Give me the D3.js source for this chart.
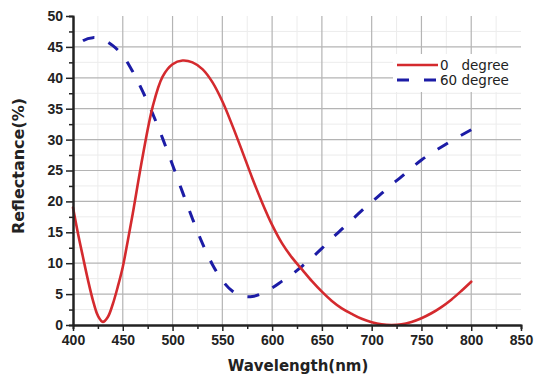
<!DOCTYPE html>
<html>
<head>
<meta charset="utf-8">
<script src="https://cdn.jsdelivr.net/npm/d3@7"></script>
<style>
  body { margin: 0; background: #fff; }
  svg { display: block; font-family: 'DejaVu Sans', Arial, sans-serif; }
</style>
</head>
<body>
<div id="chart"></div>
<script>
// wavelength (nm) and reflectance (%)
const wave0 = [400, 405, 410, 415, 420, 425, 430, 435, 440, 445, 450, 455, 460, 470, 480, 490, 500, 510, 520, 530, 540, 550, 560, 570, 580, 590, 600, 610, 620, 630, 640, 650, 660, 670, 680, 690, 700, 710, 720, 730, 740, 750, 760, 770, 780, 790, 800];
const refl0 = [19, 14.8, 11, 7.3, 4.0, 1.5, 0.5, 1.3, 3.4, 6.2, 9.4, 13.6, 18, 27.3, 35.3, 40.2, 42.2, 42.8, 42.5, 41.4, 39.3, 36.2, 32.3, 28.1, 23.8, 19.8, 16.2, 13.2, 10.9, 9.0, 7.1, 5.4, 3.9, 2.7, 1.8, 1.0, 0.45, 0.1, 0, 0.1, 0.5, 1.1, 1.9, 2.9, 4.1, 5.5, 7.0];

const wave60 = [400, 410, 420, 430, 440, 450, 460, 470, 480, 490, 500, 510, 520, 530, 540, 550, 560, 570, 580, 590, 600, 610, 620, 630, 640, 650, 660, 670, 680, 690, 700, 710, 720, 730, 740, 750, 760, 770, 780, 790, 800];
const refl60 = [44.5, 46, 46.5, 46.2, 45.2, 43.6, 41.0, 37.8, 34.2, 30.2, 25.9, 21.5, 17.2, 13.2, 9.8, 7.2, 5.5, 4.7, 4.6, 5.1, 6, 7.1, 8.2, 9.5, 10.9, 12.4, 14, 15.5, 17, 18.5, 19.9, 21.3, 22.7, 24, 25.4, 26.7, 27.8, 28.8, 29.8, 30.7, 31.6];

const xTicks = [400, 450, 500, 550, 600, 650, 700, 750, 800, 850];
const yTicks = [0, 5, 10, 15, 20, 25, 30, 35, 40, 45, 50];
const seriesNames = ['0   degree', '60 degree'];

const width = 536, height = 380;
const svg = d3.select('#chart').append('svg')
  .attr('width', width)
  .attr('height', height);

const x = d3.scaleLinear().domain([400, 850]).range([73, 521]);
const y = d3.scaleLinear().domain([0, 50]).range([325, 16]);

// minor grid
const minorX = d3.range(425, 850, 50);
const minorY = d3.range(2.5, 50, 5);
const grid = svg.append('g');
grid.selectAll('.mx').data(minorX).enter().append('line')
  .attr('x1', d => x(d)).attr('x2', d => x(d))
  .attr('y1', y(50)).attr('y2', y(0))
  .attr('stroke', '#ececec').attr('stroke-width', 1);
grid.selectAll('.my').data(minorY).enter().append('line')
  .attr('y1', d => y(d)).attr('y2', d => y(d))
  .attr('x1', x(400)).attr('x2', x(850))
  .attr('stroke', '#ececec').attr('stroke-width', 1);
// major grid
grid.selectAll('.gx').data(xTicks.filter(d => d > 400 && d < 850)).enter().append('line')
  .attr('x1', d => x(d)).attr('x2', d => x(d))
  .attr('y1', y(50)).attr('y2', y(0))
  .attr('stroke', '#b4b4b4').attr('stroke-width', 1.2);
grid.selectAll('.gy').data(yTicks.filter(d => d > 0 && d < 50)).enter().append('line')
  .attr('y1', d => y(d)).attr('y2', d => y(d))
  .attr('x1', x(400)).attr('x2', x(850))
  .attr('stroke', '#b4b4b4').attr('stroke-width', 1.2);

// lines
const line = d3.line()
  .x(d => x(d[0]))
  .y(d => y(d[1]))
  .curve(d3.curveCatmullRom.alpha(0.5));

const dashed = svg.append('path')
  .datum(wave60.map((w, i) => [w, refl60[i]]))
  .attr('d', line)
  .attr('fill', 'none')
  .attr('stroke', '#1c1ca6')
  .attr('stroke-width', 3)
  .attr('stroke-dasharray', '12,15');
// end the dash pattern on a full dash at 800 nm
const len = dashed.node().getTotalLength();
dashed.attr('stroke-dashoffset', ((12 - len) % 27 + 27) % 27);

svg.append('path')
  .datum(wave0.map((w, i) => [w, refl0[i]]))
  .attr('d', line)
  .attr('fill', 'none')
  .attr('stroke', '#d42a2e')
  .attr('stroke-width', 2.6)
  .attr('stroke-linecap', 'round');

// axes
const styleAxis = g => {
  g.select('.domain').attr('stroke', '#222').attr('stroke-width', 2);
  g.selectAll('.tick line').attr('stroke', '#222').attr('stroke-width', 1.5);
  g.selectAll('text')
    .attr('fill', '#222')
    .style('font-size', '14px')
    .style('font-weight', 'bold');
};

svg.append('g')
  .attr('transform', `translate(0,${y(0)})`)
  .call(d3.axisBottom(x).tickValues(minorX).tickSize(4).tickFormat(''))
  .call(styleAxis);
svg.append('g')
  .attr('transform', `translate(0,${y(0)})`)
  .call(d3.axisBottom(x).tickValues(xTicks).tickSize(6).tickSizeOuter(0).tickPadding(4))
  .call(styleAxis);

svg.append('g')
  .attr('transform', `translate(${x(400)},0)`)
  .call(d3.axisLeft(y).tickValues(minorY).tickSize(4).tickFormat(''))
  .call(styleAxis);
svg.append('g')
  .attr('transform', `translate(${x(400)},0)`)
  .call(d3.axisLeft(y).tickValues(yTicks).tickSize(7).tickSizeOuter(0).tickPadding(3))
  .call(styleAxis);

// axis titles
svg.append('text')
  .text('Wavelength(nm)')
  .attr('x', 298)
  .attr('y', 371)
  .attr('text-anchor', 'middle')
  .style('font-size', '15px')
  .style('font-weight', 'bold')
  .attr('fill', '#222');

svg.append('text')
  .text('Reflectance(%)')
  .attr('transform', 'translate(24,166) rotate(-90)')
  .attr('text-anchor', 'middle')
  .style('font-size', '16px')
  .style('font-weight', 'bold')
  .attr('fill', '#222');

// legend
const legend = svg.append('g');
legend.append('rect')
  .attr('x', 393).attr('y', 54)
  .attr('width', 128).attr('height', 38)
  .attr('fill', '#fff');
const legendStyles = [
  { stroke: '#d42a2e', dash: null, w: 2.6 },
  { stroke: '#1c1ca6', dash: '12,15', w: 3 }
];
seriesNames.forEach((name, i) => {
  const ly = 65 + i * 15;
  legend.append('line')
    .attr('x1', 397).attr('x2', 438)
    .attr('y1', ly).attr('y2', ly)
    .attr('stroke', legendStyles[i].stroke)
    .attr('stroke-width', legendStyles[i].w)
    .attr('stroke-dasharray', legendStyles[i].dash);
  legend.append('text')
    .text(name)
    .attr('x', 440)
    .attr('y', ly + 5)
    .style('font-size', '13.5px')
    .style('white-space', 'pre')
    .attr('fill', '#222');
});
</script>
</body>
</html>
